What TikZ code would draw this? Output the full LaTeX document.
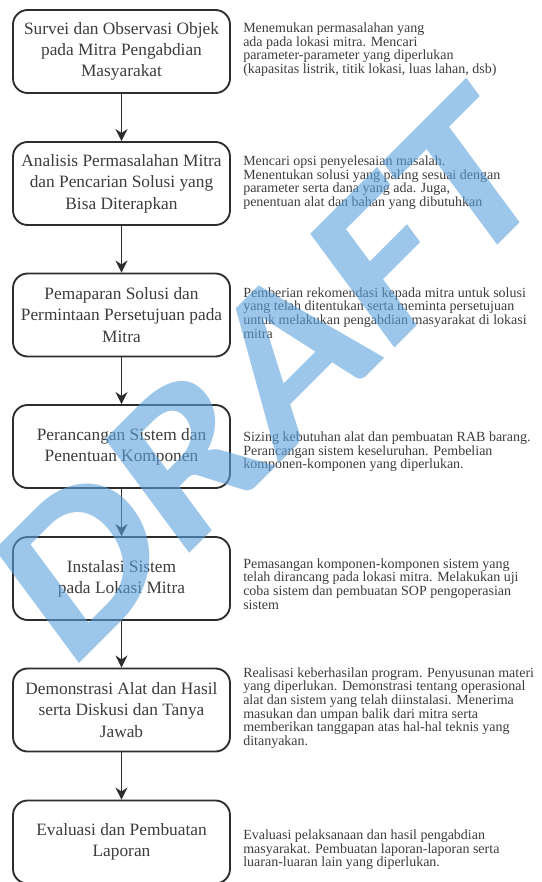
\documentclass[tikz,border=0pt]{standalone}
\usepackage{fontspec}
\setmainfont{Liberation Serif}
\newfontfamily\wmfont{Carlito}
\usetikzlibrary{arrows.meta}
\definecolor{inkgray}{RGB}{45,45,45}
\definecolor{txtgray}{RGB}{60,60,60}
\definecolor{wmblue}{RGB}{90,160,220}
\tikzset{
	stage/.style = {draw = inkgray, line width = 1.4pt, rounded corners = 11pt,
		minimum width = 162.75pt, minimum height = 62.25pt, align = center,
		text = txtgray, font = \fontsize{13}{16}\selectfont},
	note/.style = {anchor = west, align = left, text = txtgray, inner sep = 0pt,
		font = \fontsize{10.5}{10.2}\selectfont},
	flow/.style = {draw = inkgray, line width = 1.4pt,
		-{Stealth[length = 9pt, width = 9pt]}},
	wmark/.style = {text = wmblue, text opacity = 0.6, inner sep = 0pt,
		font = \wmfont\bfseries\fontsize{162}{162}\selectfont}
}

\begin{document}
\begin{tikzpicture}[x = 0.75pt, y = 0.75pt]
	\useasboundingbox (0,0) rectangle (542,-882);
	
	% stages
	\node[stage] (s1) at (121.5,-51.5) {Survei dan Observasi Objek\\pada Mitra Pengabdian\\Masyarakat};
	\node[stage] (s2) at (121.5,-183.5) {Analisis Permasalahan Mitra\\dan Pencarian Solusi yang\\Bisa Diterapkan};
	\node[stage] (s3) at (121.5,-315) {Pemaparan Solusi dan\\Permintaan Persetujuan pada\\Mitra};
	\node[stage] (s4) at (121.5,-446.5) {Perancangan Sistem dan\\Penentuan Komponen};
	\node[stage] (s5) at (121.5,-578.5) {Instalasi Sistem\\pada Lokasi Mitra};
	\node[stage] (s6) at (121.5,-710) {Demonstrasi Alat dan Hasil\\serta Diskusi dan Tanya\\Jawab};
	\node[stage] (s7) at (121.5,-842) {Evaluasi dan Pembuatan\\Laporan};
	
	% notes
	\node[note] (n1) at (243,-49.5) {Menemukan permasalahan yang\\ada pada lokasi mitra. Mencari\\parameter-parameter yang diperlukan\\(kapasitas listrik, titik lokasi, luas lahan, dsb)};
	\node[note] (n2) at (243,-182.5) {Mencari opsi penyelesaian masalah.\\Menentukan solusi yang paling sesuai dengan\\parameter serta dana yang ada. Juga,\\penentuan alat dan bahan yang dibutuhkan};
	\node[note] (n3) at (243,-313) {Pemberian rekomendasi kepada mitra untuk solusi\\yang telah ditentukan serta meminta persetujuan\\untuk melakukan pengabdian masyarakat di lokasi\\mitra};
	\node[note] (n4) at (243,-452) {Sizing kebutuhan alat dan pembuatan RAB barang.\\Perancangan sistem keseluruhan. Pembelian\\komponen-komponen yang diperlukan.};
	\node[note] (n5) at (243,-584) {Pemasangan komponen-komponen sistem yang\\telah dirancang pada lokasi mitra. Melakukan uji\\coba sistem dan pembuatan SOP pengoperasian\\sistem};
	\node[note] (n6) at (243,-708) {Realisasi keberhasilan program. Penyusunan materi\\yang diperlukan. Demonstrasi tentang operasional\\alat dan sistem yang telah diinstalasi. Menerima\\masukan dan umpan balik dari mitra serta\\memberikan tanggapan atas hal-hal teknis yang\\ditanyakan.};
	\node[note] (n7) at (243,-850) {Evaluasi pelaksanaan dan hasil pengabdian\\masyarakat. Pembuatan laporan-laporan serta\\luaran-luaran lain yang diperlukan.};
	
	% arrows
	\foreach \i/\j in {1/2,2/3,3/4,4/5,5/6,6/7}
		\draw[flow] (s\i) -- (s\j);
	
	% watermark
	\begin{scope}[shift = {(269,-375)}, rotate = 45, xslant = 0.15, xscale = 1.15]
		\node[wmark, transform shape] (wm) at (0,0) {DRAFT};
	\end{scope}
\end{tikzpicture}
\end{document}
